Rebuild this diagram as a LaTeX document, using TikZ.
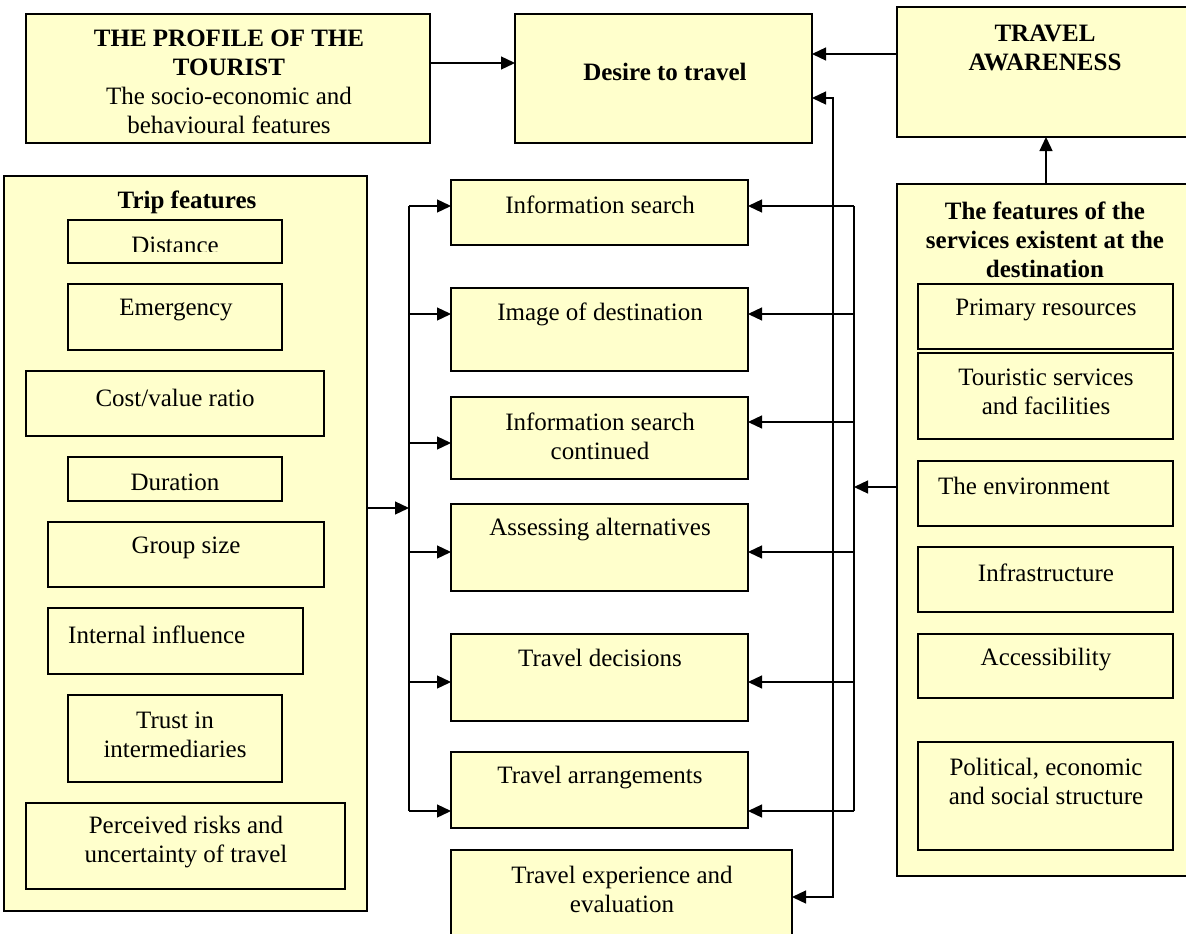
\documentclass[tikz,border=0pt]{standalone}
\usepackage{fontspec}
\setmainfont{Liberation Serif}
\usetikzlibrary{arrows.meta}
\definecolor{yfill}{RGB}{255,255,204}
\newcommand\bx[6][box]{\node[#1, minimum width={(#5)-(#3)}, minimum height={(#6)-(#4)}] (#2) at (#3,#4) {};}
\begin{document}
\begin{tikzpicture}[x=1pt,y=-1pt,
 box/.style={draw=black, line width=1.7pt, fill=yfill, inner sep=0pt, outer sep=0pt, anchor=north west},
 ibox/.style={box, line width=1.5pt},
 txt/.style={font=\fontsize{25}{29}\selectfont, align=center, inner sep=0pt},
 btxt/.style={font=\fontsize{25}{29}\selectfont\bfseries, align=center, inner sep=0pt},
 tip/.tip={Triangle[length=14pt,width=13pt]},
 arr/.style={line width=1.3pt, -tip},
 wire/.style={line width=1.3pt}]
\clip (0,0) rectangle (1186,934);
\fill[white] (0,0) rectangle (1186,934);
% outer boxes
\bx{profile}{26}{14}{430}{143}
\bx{desire}{515}{14}{812}{143}
\bx{aware}{897}{7}{1210}{137}
\bx{trip}{4}{176}{367}{911}
\bx{serv}{897}{184}{1210}{876}
\bx{infos}{451}{180}{748}{245}
\bx{image}{451}{288}{748}{371}
\bx{infoc}{451}{397}{748}{479}
\bx{assess}{451}{504}{748}{591}
\bx{decis}{451}{634}{748}{721}
\bx{arrang}{451}{752}{748}{828}
\bx{exper}{451}{850}{792}{950}
% inner boxes (trip)
\bx[ibox]{dist}{68}{220}{282}{263}
\bx[ibox]{emerg}{68}{284}{282}{350}
\bx[ibox]{cost}{26}{371}{324}{436}
\bx[ibox]{dur}{68}{457}{282}{501}
\bx[ibox]{group}{48}{522}{324}{587}
\bx[ibox]{intinf}{48}{608}{303}{674}
\bx[ibox]{trust}{68}{695}{282}{782}
\bx[ibox]{risk}{26}{803}{345}{889}
% inner boxes (services)
\bx[ibox]{prim}{918}{284}{1173}{349}
\bx[ibox]{tour}{918}{353}{1173}{439}
\bx[ibox]{env}{918}{461}{1173}{526}
\bx[ibox]{infra}{918}{547}{1173}{612}
\bx[ibox]{access}{918}{634}{1173}{698}
\bx[ibox]{polit}{918}{742}{1173}{850}
% texts
\node[txt] (tprofile) at (229,82) {\textbf{THE PROFILE OF THE}\\\textbf{TOURIST}\\The socio-economic and\\behavioural features};
\node[btxt] (tdesire) at (665,72) {Desire to travel};
\node[btxt] (taware) at (1045,48) {TRAVEL\\AWARENESS};
\node[btxt] (ttrip) at (187,202) {Trip features};
\begin{scope}
\clip (68,220) rectangle (282,251.5);
\node[txt] (tdist) at (175,245) {Distance};
\end{scope}
\node[txt] (temerg) at (176,310) {Emergency};
\node[txt] (tcost) at (175,398) {Cost/value ratio};
\node[txt] (tdur) at (175,482) {Duration};
\node[txt] (tgroup) at (186,548) {Group size};
\node[txt, anchor=west] (tintinf) at (68,635) {Internal influence};
\node[txt] (ttrust) at (175,735) {Trust in\\intermediaries};
\node[txt] (trisk) at (186,842) {Perceived risks and\\uncertainty of travel};
\node[txt] (tinfos) at (600,205) {Information search};
\node[txt] (timage) at (600,314) {Image of destination};
\node[txt] (tinfoc) at (600,436) {Information search\\continued};
\node[txt] (tassess) at (600,530) {Assessing alternatives};
\node[txt] (tdecis) at (600,658) {Travel decisions};
\node[txt] (tarrang) at (600,778) {Travel arrangements};
\node[txt] (texper) at (622,889) {Travel experience and\\evaluation};
\node[btxt] (tserv) at (1045,240) {The features of the\\services existent at the\\destination};
\node[txt] (tprim) at (1046,310) {Primary resources};
\node[txt] (ttour) at (1046,392) {Touristic services\\and facilities};
\node[txt, anchor=west] (tenv) at (938,486) {The environment};
\node[txt] (tinfra) at (1046,573) {Infrastructure};
\node[txt] (taccess) at (1046,660) {Accessibility};
\node[txt] (tpolit) at (1046,781) {Political, economic\\and social structure};
% connector coordinates
\coordinate (P) at (470,63);
\coordinate (A) at (850,54);
\coordinate (S) at (1046,160);
\coordinate (F1) at (833,98);
\coordinate (F2) at (833,897);
\coordinate (Lt) at (409,508);
\coordinate (L1) at (409,206);
\coordinate (L2) at (409,314);
\coordinate (L3) at (409,443);
\coordinate (L4) at (409,552);
\coordinate (L5) at (409,682);
\coordinate (L6) at (409,811);
\coordinate (Rs) at (854,487);
\coordinate (R1) at (854,206);
\coordinate (R2) at (854,314);
\coordinate (R3) at (854,422);
\coordinate (R4) at (854,552);
\coordinate (R5) at (854,682);
\coordinate (R6) at (854,811);
% connectors
\draw[arr] (profile.east |- P) -- (desire.west |- P);
\draw[arr] (aware.west |- A) -- (desire.east |- A);
\draw[arr] (serv.north -| S) -- (aware.south -| S);
\draw[line width=1.3pt, tip-tip] (desire.east |- F1) -- (F1) -- (F2) -- (exper.east |- F2);
\draw[arr] (trip.east |- Lt) -- (Lt);
\draw[wire] (L1) -- (L6);
\draw[arr] (L1) -- (infos.west |- L1);
\draw[arr] (L2) -- (image.west |- L2);
\draw[arr] (L3) -- (infoc.west |- L3);
\draw[arr] (L4) -- (assess.west |- L4);
\draw[arr] (L5) -- (decis.west |- L5);
\draw[arr] (L6) -- (arrang.west |- L6);
\draw[arr] (serv.west |- Rs) -- (Rs);
\draw[wire] (R1) -- (R6);
\draw[arr] (R1) -- (infos.east |- R1);
\draw[arr] (R2) -- (image.east |- R2);
\draw[arr] (R3) -- (infoc.east |- R3);
\draw[arr] (R4) -- (assess.east |- R4);
\draw[arr] (R5) -- (decis.east |- R5);
\draw[arr] (R6) -- (arrang.east |- R6);
\end{tikzpicture}
\end{document}
